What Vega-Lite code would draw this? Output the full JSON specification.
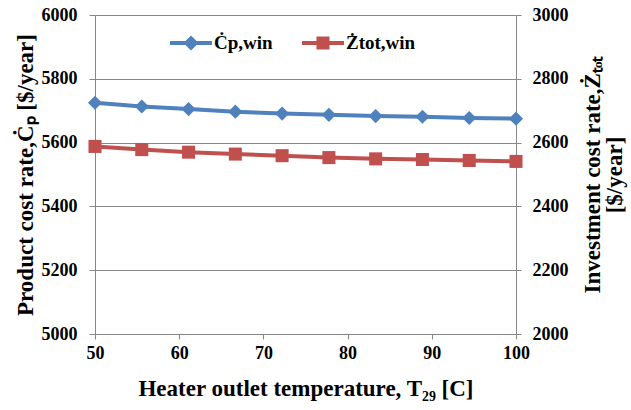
{
  "$schema": "https://vega.github.io/schema/vega-lite/v6.json",
  "width": 421,
  "height": 319,
  "autosize": {"type": "none"},
  "padding": {"left": 95, "top": 15, "right": 115, "bottom": 76},
  "background": "white",
  "config": {
    "font": "Liberation Serif",
    "view": {"stroke": null},
    "style": {"guide-label": {"font": "Liberation Serif", "fontWeight": "bold"}, "guide-title": {"font": "Liberation Serif", "fontWeight": "bold"}},
    "axis": {
      "labelFont": "Liberation Serif",
      "labelFontWeight": "bold",
      "labelFontSize": 18,
      "labelColor": "black",
      "titleFont": "Liberation Serif",
      "titleFontWeight": "bold",
      "titleFontSize": 23,
      "titleColor": "black",
      "domainColor": "#868686",
      "tickColor": "#868686",
      "gridColor": "#868686",
      "domainWidth": 1,
      "tickWidth": 1,
      "gridWidth": 1
    }
  },
  "data": {
    "values": [
      {"T": 50, "Cp": 5725, "Z": 2588},
      {"T": 55.556, "Cp": 5713, "Z": 2578},
      {"T": 61.111, "Cp": 5705, "Z": 2570},
      {"T": 66.667, "Cp": 5697, "Z": 2564},
      {"T": 72.222, "Cp": 5691, "Z": 2559},
      {"T": 77.778, "Cp": 5687, "Z": 2553},
      {"T": 83.333, "Cp": 5683, "Z": 2549},
      {"T": 88.889, "Cp": 5681, "Z": 2547},
      {"T": 94.444, "Cp": 5677, "Z": 2544},
      {"T": 100, "Cp": 5675, "Z": 2541}
    ]
  },
  "encoding": {
    "x": {
      "field": "T",
      "type": "quantitative",
      "scale": {"domain": [50, 100], "nice": false, "zero": false},
      "axis": {
        "values": [50, 60, 70, 80, 90, 100],
        "format": "d",
        "labelFont": "Liberation Serif",
        "labelFontWeight": "bold",
        "title": "Heater outlet temperature, T₂₉ [C]",
        "grid": false,
        "tickSize": 5,
        "labelPadding": 5,
        "titlePadding": 15,
        "labelFlush": false
      }
    }
  },
  "layer": [
    {
      "encoding": {
        "y": {
          "field": "Cp",
          "type": "quantitative",
          "scale": {"domain": [5000, 6000], "nice": false, "zero": false},
          "axis": {
            "orient": "left",
            "values": [5000, 5200, 5400, 5600, 5800, 6000],
            "format": "d",
            "labelFont": "Liberation Serif",
            "labelFontWeight": "bold",
            "title": "Product cost rate,Ċₚ [$/year]",
            "grid": true,
            "tickSize": 6,
            "labelPadding": 12,
            "titlePadding": 4
          }
        },
        "color": {
          "datum": "Ċp,win",
          "type": "nominal",
          "scale": {"domain": ["Ċp,win", "Żtot,win"], "range": ["#4F81BD", "#C0504D"]},
          "legend": {
            "orient": "none",
            "legendX": 75,
            "legendY": 7,
            "direction": "horizontal",
            "title": null,
            "symbolSize": 1764,
            "labelFontSize": 19,
            "labelFont": "Liberation Serif",
            "labelFontWeight": "bold",
            "labelColor": "black",
            "labelOffset": 2,
            "columnPadding": 29,
            "padding": 0,
            "encode": {
              "symbols": {
                "update": {
                  "shape": {"signal": "datum.value === 'Ċp,win' ? 'M-1,-0.1H1V0.1H-1Z M0,-0.36L0.36,0L0,0.36L-0.36,0Z' : 'M-1,-0.1H1V0.1H-1Z M-0.31,-0.31H0.31V0.31H-0.31Z'"},
                  "fill": {"signal": "datum.value === 'Ċp,win' ? '#4F81BD' : '#C0504D'"},
                  "strokeWidth": {"value": 0},
                  "opacity": {"value": 1}
                }
              }
            }
          }
        }
      },
      "layer": [
        {"mark": {"type": "line", "strokeWidth": 4}},
        {"mark": {"type": "point", "shape": "diamond", "filled": true, "size": 200, "opacity": 1}}
      ]
    },
    {
      "encoding": {
        "y": {
          "field": "Z",
          "type": "quantitative",
          "scale": {"domain": [2000, 3000], "nice": false, "zero": false},
          "axis": {
            "orient": "right",
            "values": [2000, 2200, 2400, 2600, 2800, 3000],
            "format": "d",
            "labelFont": "Liberation Serif",
            "labelFontWeight": "bold",
            "title": ["Investment cost rate,Żₜₒₜ", "[$/year]"],
            "titleAngle": 270,
            "titleBaseline": "top",
            "titleLineHeight": 22,
            "grid": false,
            "tickSize": 5,
            "labelPadding": 11,
            "titlePadding": -9
          }
        },
        "color": {"datum": "Żtot,win", "type": "nominal"}
      },
      "layer": [
        {"mark": {"type": "line", "strokeWidth": 4}},
        {"mark": {"type": "point", "shape": "square", "filled": true, "size": 170, "opacity": 1}}
      ]
    }
  ],
  "resolve": {"scale": {"y": "independent"}}
}
